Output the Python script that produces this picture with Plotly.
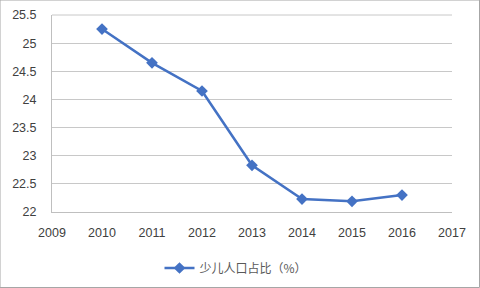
import plotly.graph_objects as go

years = [2010, 2011, 2012, 2013, 2014, 2015, 2016]
share = [25.25, 24.65, 24.15, 22.83, 22.23, 22.19, 22.30]
series_name = "少儿人口占比（%）"
x_ticks = list(range(2009, 2018))
y_ticks = [22, 22.5, 23, 23.5, 24, 24.5, 25, 25.5]

fig = go.Figure()
fig.add_trace(go.Scatter(
    x=years, y=share, name=series_name, mode="lines+markers",
    line=dict(color="#4472C4", width=2.5),
    marker=dict(symbol="diamond", size=9, color="#4472C4"),
))

fig.update_layout(
    width=480, height=288,
    margin=dict(l=52, r=28, t=15, b=76, autoexpand=False),
    paper_bgcolor="white", plot_bgcolor="white",
    font=dict(family="Liberation Sans, Arial, sans-serif", size=12.5, color="#404040"),
    showlegend=True,
    legend=dict(orientation="h", x=0.46, xanchor="center", yref="container", y=1 - 268 / 288,
                yanchor="middle",
                font=dict(family="Noto Sans CJK SC", size=12, color="#595959"),
                bgcolor="rgba(0,0,0,0)"),
    xaxis=dict(range=[2009, 2017], tickvals=x_ticks, ticktext=[str(v) for v in x_ticks],
               showgrid=False, zeroline=False, showline=True, linecolor="#BFBFBF", linewidth=1,
               ticks="outside", ticklen=9, tickcolor="rgba(0,0,0,0)", automargin=False),
    yaxis=dict(range=[22, 25.5], tickvals=y_ticks, ticktext=[f"{v:g}" for v in y_ticks],
               showgrid=True, gridcolor="#C8C8C8", gridwidth=1, zeroline=False,
               showline=True, linecolor="#BFBFBF", linewidth=1,
               ticks="outside", ticklen=12, tickcolor="rgba(0,0,0,0)", automargin=False),
)
fig.add_shape(type="rect", xref="paper", yref="paper", x0=-52/400, x1=1+27.5/400,
              y0=-75.5/197, y1=1+15/197, line=dict(color="#A6A6A6", width=1))
fig.add_shape(type="line", xref="paper", yref="paper", x0=0, x1=1, y0=1, y1=1,
              line=dict(color="#C8C8C8", width=1))
fig.write_html("out.html")
